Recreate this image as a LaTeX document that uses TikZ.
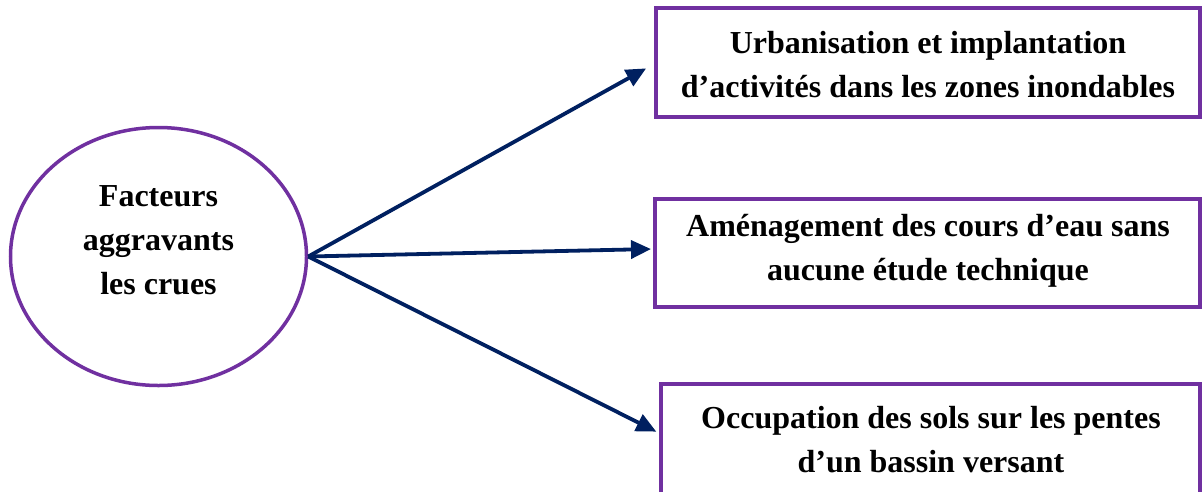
\documentclass[tikz,border=0pt]{standalone}
\usepackage{fontspec}
\setmainfont{Liberation Serif}
\usetikzlibrary{arrows.meta,shapes.geometric}
\definecolor{boxpurple}{HTML}{7030A0}
\definecolor{arrownavy}{HTML}{002060}
\tikzset{
  txt/.style={font=\fontsize{32}{44}\selectfont\bfseries, align=center, text=black},
  factorbox/.style={draw=boxpurple, line width=4pt, rectangle, inner sep=0pt},
  hub/.style={draw=boxpurple, line width=3.5pt, ellipse, inner sep=0pt},
  link/.style={draw=arrownavy, line width=3.8pt, -{Triangle[length=20pt,width=18pt]}, shorten >=9pt}
}
\begin{document}
\begin{tikzpicture}[x=1pt,y=-1pt]
  \useasboundingbox (0,0) rectangle (1204,491);
  % central factor
  \node[hub, minimum width=296pt, minimum height=258pt] (hub) at (158.5,256.5) {};
  \node[txt] (hubtxt) at (158.5,240) {Facteurs\\aggravants\\les crues};
  % the three aggravating factors
  \node[factorbox, minimum width=544pt, minimum height=109pt] (b1) at (928,62.5) {};
  \node[txt] (t1) at (928,65) {Urbanisation et implantation\\d’activités dans les zones inondables};
  \node[factorbox, minimum width=545pt, minimum height=108pt] (b2) at (927.5,253) {};
  \node[txt] (t2) at (928,250.5) {Aménagement des cours d’eau sans\\aucune étude technique};
  \node[factorbox, minimum width=539pt, minimum height=112pt] (b3) at (930.5,440) {};
  \node[txt] (t3) at (931,440) {Occupation des sols sur les pentes\\d’un bassin versant};
  % connectors from the hub
  \coordinate (e1) at ([yshift=-1.5pt]b1.west);
  \coordinate (e2) at ([yshift=4pt]b2.west);
  \coordinate (e3) at ([yshift=7pt]b3.west);
  \draw[link] (hub.east) -- (e1);
  \draw[link, shorten >=2pt] (hub.east) -- (e2);
  \draw[link, shorten >=3pt] (hub.east) -- (e3);
\end{tikzpicture}
\end{document}
